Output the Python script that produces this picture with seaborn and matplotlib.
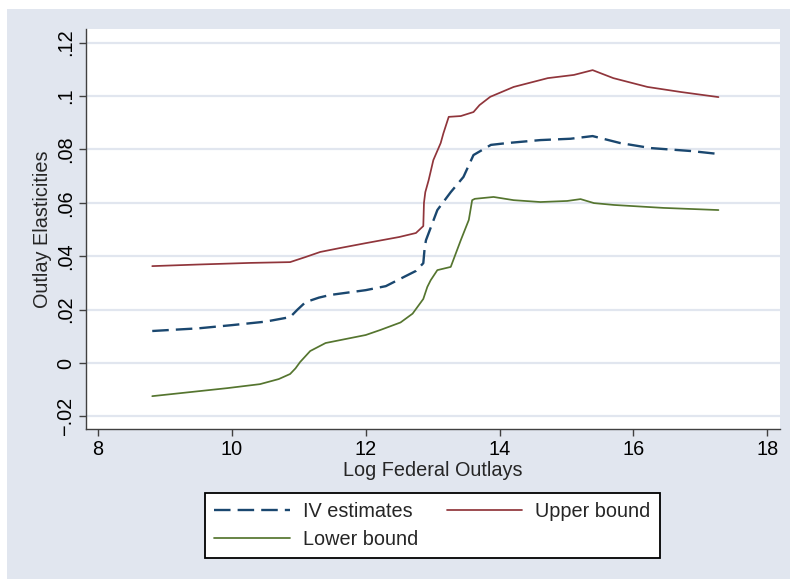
import matplotlib
matplotlib.use("Agg")
import matplotlib.pyplot as plt
from matplotlib.patches import Rectangle
import seaborn as sns

# Outlay elasticity estimates against log federal outlays
iv_x = [8.81, 9.5, 10.0, 10.5, 10.87, 10.98, 11.1, 11.3, 11.47, 12.0, 12.3, 12.52, 12.75,
        12.86, 12.88, 12.9, 13.07, 13.27, 13.46, 13.61, 13.87, 14.12, 14.61, 15.06, 15.39,
        15.8, 16.26, 16.86, 17.27]
iv_y = [0.0120, 0.0130, 0.0142, 0.0155, 0.0172, 0.0200, 0.0228, 0.0245, 0.0255, 0.0273,
        0.0288, 0.0316, 0.0345, 0.0374, 0.0430, 0.0460, 0.0573, 0.0640, 0.0697, 0.0779,
        0.0817, 0.0824, 0.0835, 0.0840, 0.0850, 0.0824, 0.0805, 0.0794, 0.0783]

upper_x = [8.81, 9.5, 10.27, 10.87, 11.1, 11.32, 11.6, 12.0, 12.5, 12.75, 12.86, 12.87,
           12.89, 12.94, 13.01, 13.12, 13.16, 13.24, 13.42, 13.61, 13.7, 13.86, 14.21,
           14.72, 15.11, 15.39, 15.70, 16.21, 16.71, 17.27]
upper_y = [0.0363, 0.0369, 0.0375, 0.0378, 0.0397, 0.0416, 0.0430, 0.0449, 0.0472, 0.0487,
           0.0513, 0.0600, 0.0640, 0.0685, 0.0760, 0.0824, 0.0860, 0.0922, 0.0925, 0.0940,
           0.0966, 0.0997, 0.1034, 0.1067, 0.1079, 0.1097, 0.1067, 0.1034, 0.1015, 0.0996]

lower_x = [8.81, 9.93, 10.42, 10.7, 10.87, 10.95, 11.02, 11.17, 11.4, 11.62, 12.0, 12.22,
           12.52, 12.7, 12.86, 12.92, 12.97, 13.07, 13.27, 13.42, 13.54, 13.59, 13.63, 13.91,
           14.21, 14.61, 15.01, 15.21, 15.41, 15.71, 16.45, 17.27]
lower_y = [-0.0124, -0.0094, -0.0079, -0.0060, -0.0041, -0.0020, 0.0004, 0.0045, 0.0075,
           0.0086, 0.0105, 0.0124, 0.0152, 0.0185, 0.0240, 0.0285, 0.0310, 0.0348, 0.0360,
           0.0460, 0.0536, 0.0610, 0.0615, 0.0622, 0.0610, 0.0603, 0.0607, 0.0614, 0.0599,
           0.0592, 0.0581, 0.0573]

x_ticks = [8, 10, 12, 14, 16, 18]
y_ticks = [-0.02, 0, 0.02, 0.04, 0.06, 0.08, 0.10, 0.12]
y_tick_labels = ["\u2212.02", "0", ".02", ".04", ".06", ".08", ".1", ".12"]

BG = "#E1E6EF"
NAVY = "#1A476F"
MAROON = "#90353B"
GREEN = "#55752F"
FS = 14.3

sns.set_style("white")
plt.rcParams["font.family"] = ["Liberation Sans", "DejaVu Sans"]

fig = plt.figure(figsize=(7.9, 5.79), dpi=100, facecolor="white")
fig.patches.append(Rectangle((7 / 790, 0), 1 - 7 / 790, 1 - 9 / 579,
                             transform=fig.transFigure, facecolor=BG,
                             edgecolor="none", zorder=-10))
ax = fig.add_axes([86 / 790, 1 - 429 / 579, 694 / 790, 400 / 579])
ax.set_zorder(1)
ax.set_facecolor("white")

sns.lineplot(x=iv_x, y=iv_y, ax=ax, color=NAVY, linewidth=1.7,
             linestyle=(0, (7, 3)), label="IV estimates")
sns.lineplot(x=upper_x, y=upper_y, ax=ax, color=MAROON, linewidth=1.25,
             label="Upper bound")
sns.lineplot(x=lower_x, y=lower_y, ax=ax, color=GREEN, linewidth=1.25,
             label="Lower bound")

ax.set_xlim(7.82, 18.19)
ax.set_ylim(-0.0247, 0.1251)
ax.set_xticks(x_ticks)
ax.set_xticklabels([str(t) for t in x_ticks])
ax.set_yticks(y_ticks)
ax.set_yticklabels(y_tick_labels, rotation=90, va="center")
ax.yaxis.grid(True, color=BG, linewidth=1.6)
ax.xaxis.grid(False)
ax.set_axisbelow(True)

for side in ("top", "right"):
    ax.spines[side].set_visible(False)
for side in ("left", "bottom"):
    ax.spines[side].set_color("#404040")
    ax.spines[side].set_linewidth(1.0)

ax.tick_params(axis="both", which="major", direction="out", length=5, width=1.0,
               color="#404040", labelsize=FS, labelcolor="black", pad=3,
               left=True, bottom=True)
ax.set_xlabel("Log Federal Outlays", fontsize=FS, labelpad=1)
ax.set_ylabel("Outlay Elasticities", fontsize=FS, labelpad=3)

handles, labels = ax.get_legend_handles_labels()
ax.get_legend().remove()
order = [0, 2, 1]
leg = fig.legend([handles[i] for i in order], [labels[i] for i in order],
                 loc="center", bbox_to_anchor=(432.5 / 790, 1 - 525.5 / 579),
                 ncol=2, fontsize=FS, frameon=True, fancybox=False,
                 handlelength=3.8, columnspacing=1.45, borderpad=0.48,
                 labelspacing=0.42, handletextpad=0.65, borderaxespad=0)
leg.get_frame().set_edgecolor("black")
leg.get_frame().set_linewidth(1.3)
leg.get_frame().set_facecolor("white")
leg.get_frame().set_alpha(1)

fig.savefig("out.png", dpi=100, facecolor="white")
